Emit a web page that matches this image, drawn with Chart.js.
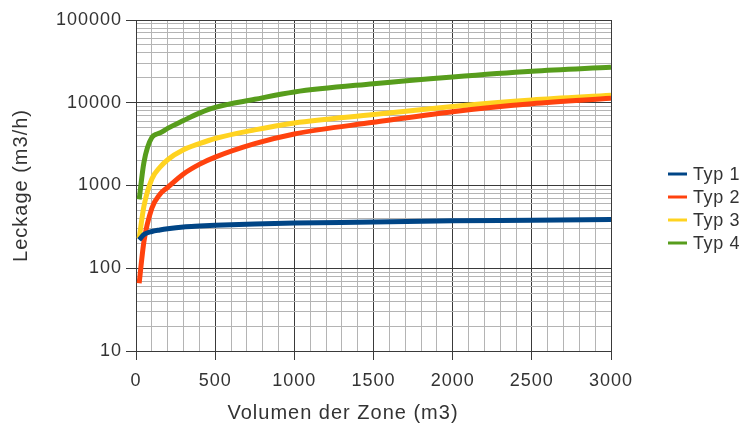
<!DOCTYPE html>
<html>
<head>
<meta charset="utf-8">
<script src="https://cdn.jsdelivr.net/npm/chart.js@4.4.1/dist/chart.umd.min.js"></script>
<style>
  html, body { margin: 0; padding: 0; background: #fff; }
  #wrap { width: 743px; height: 430px; }
</style>
</head>
<body>
<div id="wrap"><canvas id="chart" width="743" height="430"></canvas></div>
<script>
// Volumen der Zone (m3)
const volumes = [20, 50, 100, 150, 200, 300, 400, 500, 750, 1000, 1500, 2000, 2500, 3000];

// Leckage (m3/h) per Typ
const typ1 = [220, 255, 278, 290, 300, 315, 323, 330, 343, 352, 362, 375, 380, 388];
const typ2 = [66, 210, 530, 780, 950, 1380, 1800, 2200, 3200, 4200, 5800, 7800, 9700, 11300];
const typ3 = [230, 560, 1200, 1650, 2050, 2700, 3200, 3700, 4700, 5700, 7200, 9000, 10800, 12300];
const typ4 = [680, 1900, 3800, 4300, 4900, 6100, 7500, 8800, 11000, 13500, 17000, 20500, 24000, 26800];

const seriesLabels = ['Typ 1', 'Typ 2', 'Typ 3', 'Typ 4'];
const seriesColors = ['#004586', '#ff420e', '#ffd320', '#579d1c'];

const xLabelTicks = [0, 500, 1000, 1500, 2000, 2500, 3000];
const xMinorStep = 100;
const yDecades = [10, 100, 1000, 10000, 100000];
const xTitle = 'Volumen der Zone (m3)';
const yTitle = 'Leckage (m3/h)';

const FONT = '"Liberation Sans", Arial, sans-serif';
const TEXT = '#333333';
const MAJOR = '#3a3a3a';
const MINOR = '#b4b4b4';

const toPoints = (values) => values.map((v, i) => ({ x: volumes[i], y: v }));

const isDecade = (v) => Math.abs(Math.log10(v) - Math.round(Math.log10(v))) < 1e-9;

// the reference text is a little wider than Liberation Sans, spread it out
const spacingPlugin = {
  id: 'spacing',
  beforeDraw(chart) {
    chart.ctx.letterSpacing = '1px';
  }
};

// x title sits left of the plot centre in the reference, so draw it by hand
const xTitlePlugin = {
  id: 'xTitle',
  afterDraw(chart) {
    const ctx = chart.ctx;
    ctx.save();
    ctx.letterSpacing = '1px';
    ctx.font = '20px ' + FONT;
    ctx.fillStyle = TEXT;
    ctx.textAlign = 'center';
    ctx.textBaseline = 'middle';
    ctx.fillText(xTitle, 343, 413);
    ctx.restore();
  }
};

const legendPlugin = {
  id: 'sideLegend',
  afterDraw(chart) {
    const ctx = chart.ctx;
    ctx.save();
    ctx.letterSpacing = '0.6px';
    ctx.font = '18px ' + FONT;
    ctx.textBaseline = 'middle';
    ctx.fillStyle = TEXT;
    chart.data.datasets.forEach((ds, i) => {
      const y = 174 + i * 23;
      ctx.strokeStyle = ds.borderColor;
      ctx.lineWidth = 3;
      ctx.beginPath();
      ctx.moveTo(668, y);
      ctx.lineTo(687, y);
      ctx.stroke();
      ctx.fillText(ds.label, 693, y + 1);
    });
    ctx.restore();
  }
};

const datasets = [typ1, typ2, typ3, typ4].map((values, i) => ({
  label: seriesLabels[i],
  data: toPoints(values),
  borderColor: seriesColors[i],
  backgroundColor: seriesColors[i],
  borderWidth: 5,
  pointRadius: 0,
  cubicInterpolationMode: 'monotone',
  fill: false
}));

new Chart(document.getElementById('chart'), {
  type: 'line',
  data: { datasets },
  plugins: [spacingPlugin, xTitlePlugin, legendPlugin],
  options: {
    responsive: false,
    animation: false,
    devicePixelRatio: 1,
    layout: { padding: { left: 0, right: 132, top: 20, bottom: 0 } },
    plugins: {
      legend: { display: false },
      tooltip: { enabled: false }
    },
    scales: {
      x: {
        type: 'linear',
        min: 0,
        max: 3000,
        afterBuildTicks: (scale) => {
          const ticks = [];
          for (let v = 0; v <= 3000; v += xMinorStep) ticks.push({ value: v });
          scale.ticks = ticks;
        },
        afterFit: (scale) => { scale.height = 79; },
        ticks: {
          autoSkip: false,
          maxRotation: 0,
          padding: 10,
          color: TEXT,
          font: { family: FONT, size: 18 },
          callback: (v) => (xLabelTicks.includes(v) ? String(v) : '')
        },
        grid: {
          color: (c) => (c.tick && c.tick.value % 500 === 0 ? MAJOR : MINOR),
          tickColor: (c) => (c.tick && c.tick.value % 500 === 0 ? MAJOR : 'rgba(0,0,0,0)'),
          tickLength: 9,
          lineWidth: 1
        },
        border: { display: true, color: MAJOR },
        title: { display: false }
      },
      y: {
        type: 'logarithmic',
        min: 10,
        max: 100000,
        afterBuildTicks: (scale) => {
          const ticks = [];
          yDecades.forEach((d, i) => {
            if (i === yDecades.length - 1) { ticks.push({ value: d, major: true }); return; }
            for (let m = 1; m <= 9; m++) ticks.push({ value: d * m, major: m === 1 });
          });
          scale.ticks = ticks;
        },
        afterFit: (scale) => { scale.width = 136; },
        ticks: {
          autoSkip: false,
          padding: 4,
          color: TEXT,
          font: { family: FONT, size: 18 },
          callback: (v) => (yDecades.includes(v) ? String(v) : '')
        },
        grid: {
          color: (c) => (c.tick && isDecade(c.tick.value) ? MAJOR : MINOR),
          tickColor: (c) => (c.tick && isDecade(c.tick.value) ? MAJOR : 'rgba(0,0,0,0)'),
          tickLength: 10,
          lineWidth: 1
        },
        border: { display: true, color: MAJOR },
        title: {
          display: true,
          text: yTitle,
          color: TEXT,
          font: { family: FONT, size: 20 },
          padding: { top: 9, bottom: 0 }
        }
      }
    }
  }
});
</script>
</body>
</html>
